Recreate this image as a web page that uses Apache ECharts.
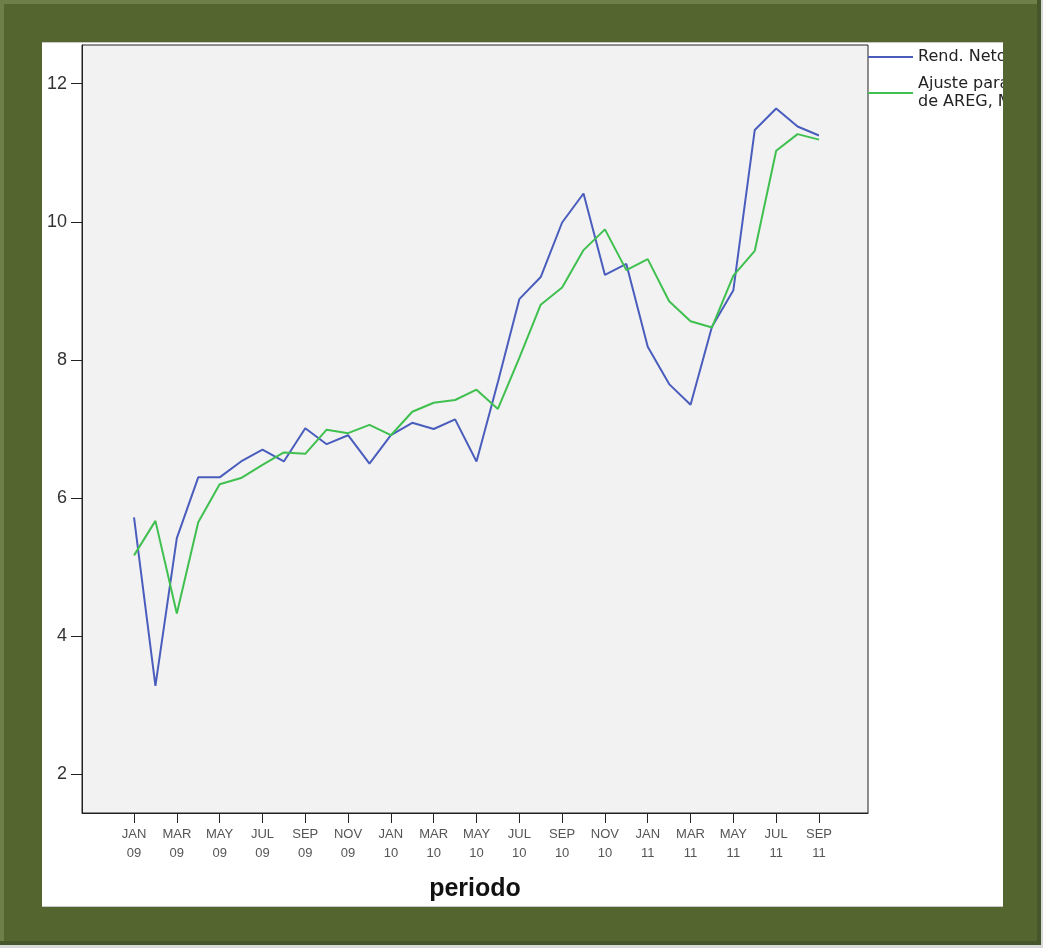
<!DOCTYPE html>
<html><head><meta charset="utf-8">
<script src="https://cdn.jsdelivr.net/npm/echarts@6/dist/echarts.min.js"></script>
<style>html,body{margin:0;padding:0;background:#fff}#c{width:1043px;height:948px}</style>
</head><body><div id="c"></div><script>
// ---- data ----
const periods = ['JAN 09','FEB 09','MAR 09','APR 09','MAY 09','JUN 09','JUL 09','AUG 09','SEP 09','OCT 09','NOV 09','DEC 09',
  'JAN 10','FEB 10','MAR 10','APR 10','MAY 10','JUN 10','JUL 10','AUG 10','SEP 10','OCT 10','NOV 10','DEC 10',
  'JAN 11','FEB 11','MAR 11','APR 11','MAY 11','JUN 11','JUL 11','AUG 11','SEP 11'];
const rendNeto = [5.72,3.28,5.42,6.30,6.30,6.53,6.70,6.53,7.01,6.78,6.91,6.50,
  6.91,7.09,7.00,7.14,6.53,7.68,8.88,9.20,9.99,10.41,9.23,9.39,
  8.19,7.65,7.35,8.48,9.01,11.33,11.64,11.38,11.25];
const ajuste = [5.17,5.67,4.33,5.65,6.20,6.29,6.48,6.66,6.64,6.99,6.94,7.06,
  6.91,7.25,7.38,7.42,7.57,7.29,8.03,8.80,9.05,9.59,9.89,9.30,
  9.46,8.85,8.56,8.47,9.22,9.58,11.03,11.27,11.19];
const xTickIndex = [0,2,4,6,8,10,12,14,16,18,20,22,24,26,28,30,32];
const yTickValues = [2,4,6,8,10,12];
const seriesNames = ['Rend. Neto', 'Ajuste para Rend. Neto\nde AREG, MOD_1'];

const FONT = '"Liberation Sans", Arial, sans-serif';
const olive = '#55652f';
const chart = echarts.init(document.getElementById('c'), null, {renderer: 'canvas'});
chart.setOption({
  backgroundColor: '#ffffff',
  animation: false,
  grid: {left: 82, top: 45, width: 786, height: 768, show: true,
    backgroundColor: '#f2f2f2', borderColor: '#222', borderWidth: 1},
  legend: {orient: 'vertical', left: 868, top: 48, padding: 0, itemGap: 9,
    itemWidth: 45, itemHeight: 2, icon: 'rect', data: seriesNames,
    textStyle: {fontSize: 16, color: '#222', lineHeight: 18, fontFamily: '"DejaVu Sans", sans-serif'}},
  xAxis: {type: 'value', min: -2.43, max: 34.29,
    name: 'periodo', nameLocation: 'middle', nameGap: 64,
    nameTextStyle: {fontSize: 25, fontWeight: 'bold', color: '#111', fontFamily: FONT},
    axisLine: {show: true, onZero: false, lineStyle: {color: '#222', width: 1}},
    axisTick: {show: true, customValues: xTickIndex, length: 10, lineStyle: {color: '#222'}},
    axisLabel: {customValues: xTickIndex, formatter: v => periods[Math.round(v)].replace(' ', '\n'),
      color: '#555', fontSize: 13, lineHeight: 19, margin: 12, fontFamily: FONT},
    splitLine: {show: false}},
  yAxis: {type: 'value', min: 1.44, max: 12.56,
    axisLine: {show: true, onZero: false, lineStyle: {color: '#222', width: 1}},
    axisTick: {show: true, customValues: yTickValues, length: 11, lineStyle: {color: '#222'}},
    axisLabel: {customValues: yTickValues, color: '#333', fontSize: 18, margin: 15, fontFamily: FONT},
    splitLine: {show: false}},
  series: [
    {name: seriesNames[0], type: 'line', symbol: 'none', data: rendNeto.map((v, i) => [i, v]),
      lineStyle: {color: '#4a5dbd', width: 2}, itemStyle: {color: '#4a5dbd'}},
    {name: seriesNames[1], type: 'line', symbol: 'none', data: ajuste.map((v, i) => [i, v]),
      lineStyle: {color: '#3fc04f', width: 2}, itemStyle: {color: '#3fc04f'}}
  ],
  graphic: [
    {type: 'rect', z: 100, shape: {x: 0, y: 0, width: 1043, height: 42}, style: {fill: olive}},
    {type: 'rect', z: 100, shape: {x: 0, y: 906, width: 1043, height: 42}, style: {fill: olive}},
    {type: 'rect', z: 100, shape: {x: 0, y: 0, width: 42, height: 948}, style: {fill: olive}},
    {type: 'rect', z: 100, shape: {x: 1003, y: 0, width: 40, height: 948}, style: {fill: olive}},
    {type: 'rect', z: 101, shape: {x: 0, y: 0, width: 1043, height: 4}, style: {fill: '#6f7f48'}},
    {type: 'rect', z: 101, shape: {x: 0, y: 0, width: 4, height: 948}, style: {fill: '#6f7f48'}},
    {type: 'rect', z: 101, shape: {x: 0, y: 941, width: 1043, height: 4}, style: {fill: '#47552a'}},
    {type: 'rect', z: 101, shape: {x: 1037, y: 0, width: 4, height: 945}, style: {fill: '#47552a'}},
    {type: 'rect', z: 102, shape: {x: 0, y: 945, width: 1043, height: 3}, style: {fill: '#d8d8d8'}},
    {type: 'rect', z: 102, shape: {x: 1041, y: 0, width: 2, height: 948}, style: {fill: '#d8d8d8'}},
    {type: 'rect', z: 101, shape: {x: 42, y: 42, width: 961, height: 1}, style: {fill: '#c8c8c8'}},
    {type: 'rect', z: 101, shape: {x: 42, y: 906, width: 961, height: 1}, style: {fill: '#c8c8c8'}}
  ]
});
</script></body></html>
